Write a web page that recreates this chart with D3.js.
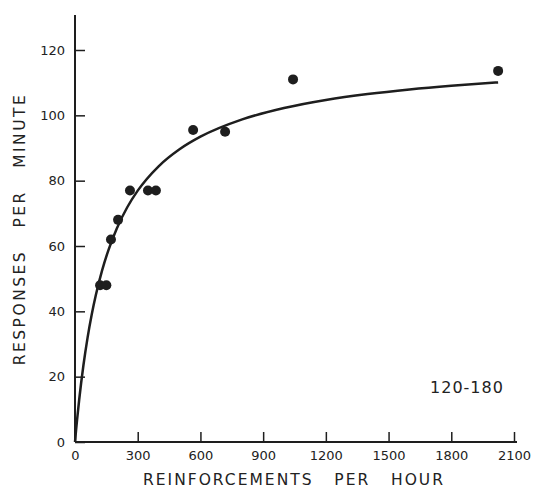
<!DOCTYPE html>
<html><head><meta charset="utf-8">
<script src="https://cdn.jsdelivr.net/npm/d3@7/dist/d3.min.js"></script>
<style>body{margin:0;background:#fff}svg{display:block}text{font-family:"DejaVu Sans",sans-serif;fill:#222;white-space:pre}</style>
</head><body><svg id="c" width="534" height="494"></svg>
<script>
const xTicks=[0,300,600,900,1200,1500,1800,2100];
const yTicks=[0,20,40,60,80,100,120];
const ptX=[120,150,172,206,263,349,387,565,718,1043,2024];
const ptY=[48,48,62,68,77,77,77,95.5,95,111,113.6];
const fitK=[119]; const fitRe=[164];
const curveX=[0,5,10,20,40,60,80,100,130,160,200,250,300,400,500,600,800,1000,1200,1400,1600,1800,2024];
const label=["120-180"];

const svg=d3.select("#c");
const x=d3.scaleLinear().domain([0,2100]).range([75,514]);
const y=d3.scaleLinear().domain([0,120]).range([442,50]);
const col="#1e1e1e";

svg.append("line").attr("x1",x(0)).attr("x2",x(2100)+3).attr("y1",y(0)).attr("y2",y(0)).attr("stroke",col).attr("stroke-width",2);
svg.append("line").attr("x1",x(0)).attr("x2",x(0)).attr("y1",y(0)).attr("y2",15).attr("stroke",col).attr("stroke-width",2);

const xa=d3.axisBottom(x).tickValues(xTicks).tickSize(-10).tickPadding(14).tickFormat(d=>d);
const gx=svg.append("g").attr("transform",`translate(0,${y(0)})`).call(xa);
gx.select(".domain").remove();
gx.selectAll("line").attr("stroke",col).attr("stroke-width",1.5);
gx.selectAll("text").attr("font-size",13).attr("fill",col).attr("dy","0.3em");

const ya=d3.axisLeft(y).tickValues(yTicks).tickSize(-10).tickPadding(10).tickFormat(d=>d);
const gy=svg.append("g").attr("transform",`translate(${x(0)},0)`).call(ya);
gy.select(".domain").remove();
gy.selectAll("line").attr("stroke",col).attr("stroke-width",1.5);
gy.selectAll("text").attr("font-size",13).attr("fill",col);

const line=d3.line().x(d=>x(d)).y(d=>y(fitK[0]*d/(d+fitRe[0]))).curve(d3.curveMonotoneX);
svg.append("path").datum(curveX).attr("d",line).attr("fill","none").attr("stroke",col).attr("stroke-width",2.5);

svg.selectAll("circle.p").data(ptX).enter().append("circle").attr("class","p")
 .attr("cx",d=>x(d)).attr("cy",(d,i)=>y(ptY[i])).attr("r",5).attr("fill",col);

svg.append("text").attr("x",294).attr("y",485).attr("text-anchor","middle")
 .attr("font-size",15.5).style("letter-spacing","2px").text("REINFORCEMENTS   PER   HOUR");
svg.append("text").attr("transform",`translate(25,229) rotate(-90)`).attr("text-anchor","middle")
 .attr("font-size",15.5).style("letter-spacing","2.5px").text("RESPONSES   PER   MINUTE");
svg.append("text").attr("x",x(1875)).attr("y",y(16.5)).attr("text-anchor","middle").attr("dominant-baseline","middle")
 .attr("font-size",16).style("letter-spacing","1px").text(label[0]);
</script></body></html>
